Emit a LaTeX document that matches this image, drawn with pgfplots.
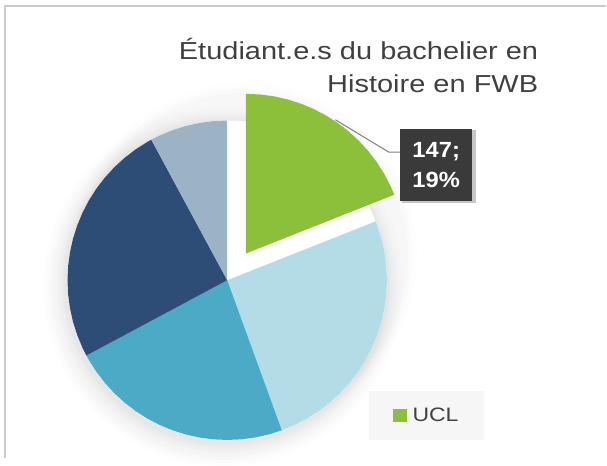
\documentclass[border=0pt]{standalone}
\usepackage{fontspec}
\setmainfont{Liberation Sans}
\newfontfamily\titlefont{Liberation Sans}[FakeStretch=1.18]
\newfontfamily\boxfont{Liberation Sans}[FakeStretch=1.08]
\usepackage{pgfplots}
\pgfplotsset{compat=1.18}

\definecolor{uclgreen}{HTML}{8CC03B}
\definecolor{paleblue}{HTML}{B4DCE6}
\definecolor{midblue}{HTML}{4BAAC6}
\definecolor{navy}{HTML}{2E4D76}
\definecolor{greyblue}{HTML}{9BB3C5}
\definecolor{txtgrey}{HTML}{404040}
\definecolor{boxgrey}{HTML}{3A3A3A}
\definecolor{framegrey}{HTML}{CACACA}
\definecolor{legbg}{HTML}{F6F6F6}

% counts: UCL 147 (19%), then 197, 176, 193, 61 -> total 774
% slices as (angle, radius), clockwise from 90 deg

\begin{document}
\begin{tikzpicture}
\begin{axis}[
  scale only axis,
  width=607pt, height=459pt,
  xmin=-227.6, xmax=379.4,
  ymin=-178.3, ymax=280.7,
  hide axis, clip=false,
  legend style={
    at={(axis description cs:0.7043,0.0926)}, anchor=center,
    fill=legbg, draw=none,
    font=\titlefont\fontsize{19.5}{21}\selectfont, text=txtgrey,
    inner xsep=24pt, inner ysep=15pt,
    /tikz/every odd column/.append style={column sep=4pt},
  },
  legend image code/.code={\fill[#1] (0pt,-6.5pt) rectangle (13.5pt,7pt);},
]
\path (rel axis cs:0,0) rectangle (rel axis cs:1,1);

% frame
\draw[framegrey, line width=2pt] (axis cs:-222.6,-178.3) -- (axis cs:-222.6,274.2) -- (axis cs:379.4,274.2);

% soft shadow
\fill[black, opacity=0.008] (axis cs:-4,-6) circle[radius=180pt];
\fill[black, opacity=0.008] (axis cs:-4,-6) circle[radius=177pt];
\fill[black, opacity=0.01] (axis cs:-4,-6) circle[radius=174pt];
\fill[black, opacity=0.01] (axis cs:-4,-6) circle[radius=171pt];
\fill[black, opacity=0.012] (axis cs:-3,-5) circle[radius=168pt];
\fill[black, opacity=0.012] (axis cs:-3,-5) circle[radius=166pt];
\fill[black, opacity=0.015] (axis cs:-2,-4) circle[radius=164pt];
\fill[black, opacity=0.015] (axis cs:-2,-3) circle[radius=162pt];
\fill[black, opacity=0.008] (axis cs:18,25) circle[radius=172pt];
\fill[black, opacity=0.01] (axis cs:18,25) circle[radius=167pt];
\fill[black, opacity=0.012] (axis cs:18,25) circle[radius=163pt];
\fill[white] (axis cs:0,0) circle[radius=160pt];

% pale blue
\addplot[data cs=polar, fill=paleblue, draw=none, forget plot] coordinates {
  (0,0) (21.63,160) (20,160) (15,160) (10,160) (5,160) (0,160) (-5,160)
  (-10,160) (-15,160) (-20,160) (-25,160) (-30,160) (-35,160) (-40,160)
  (-45,160) (-50,160) (-55,160) (-60,160) (-65,160) (-70,160)
};
% mid blue
\addplot[data cs=polar, fill=midblue, draw=none, forget plot] coordinates {
  (0,0) (-70,160) (-75,160) (-80,160) (-85,160) (-90,160) (-95,160)
  (-100,160) (-105,160) (-110,160) (-115,160) (-120,160) (-125,160)
  (-130,160) (-135,160) (-140,160) (-145,160) (-150,160) (-151.86,160)
};
% navy
\addplot[data cs=polar, fill=navy, draw=none, forget plot] coordinates {
  (0,0) (-151.86,160) (-155,160) (-160,160) (-165,160) (-170,160)
  (-175,160) (-180,160) (-185,160) (-190,160) (-195,160) (-200,160)
  (-205,160) (-210,160) (-215,160) (-220,160) (-225,160) (-230,160)
  (-235,160) (-240,160) (-241.63,160)
};
% grey blue
\addplot[data cs=polar, fill=greyblue, draw=none, forget plot] coordinates {
  (0,0) (-241.63,160) (-245,160) (-250,160) (-255,160) (-260,160)
  (-265,160) (-270,160)
};
% UCL, pulled out
\addplot[data cs=polar, fill=uclgreen, draw=none, forget plot,
  xshift=18.6pt, yshift=26.7pt] coordinates {
  (0,0) (90,160) (85,160) (80,160) (75,160) (70,160) (65,160) (60,160)
  (55,160) (50,160) (45,160) (40,160) (35,160) (30,160) (25,160)
  (21.63,160)
};
\addlegendimage{fill=uclgreen, draw=none}
\addlegendentry{UCL}

% title
\node[anchor=base east, text=txtgrey, font=\titlefont\fontsize{24.6}{30}\selectfont]
  at (axis cs:315,221.4) {Étudiant.e.s du bachelier en};
\node[anchor=base east, text=txtgrey, font=\titlefont\fontsize{24.6}{30}\selectfont]
  at (axis cs:315,188) {Histoire en FWB};

% data label
\draw[gray, line width=1pt] (axis cs:108.4,160.7) -- (axis cs:161.7,128.4) -- (axis cs:173.1,128.4);
\fill[black, opacity=0.22] (axis cs:175.3,77.7) rectangle (axis cs:249.3,150.7);
\node[fill=boxgrey, minimum width=72pt, minimum height=72pt, inner sep=0pt,
  text=white, align=center, font=\boxfont\bfseries\fontsize{22}{30}\selectfont]
  at (axis cs:209.3,115.7) {147;\\19\%};
\end{axis}
\end{tikzpicture}
\end{document}
